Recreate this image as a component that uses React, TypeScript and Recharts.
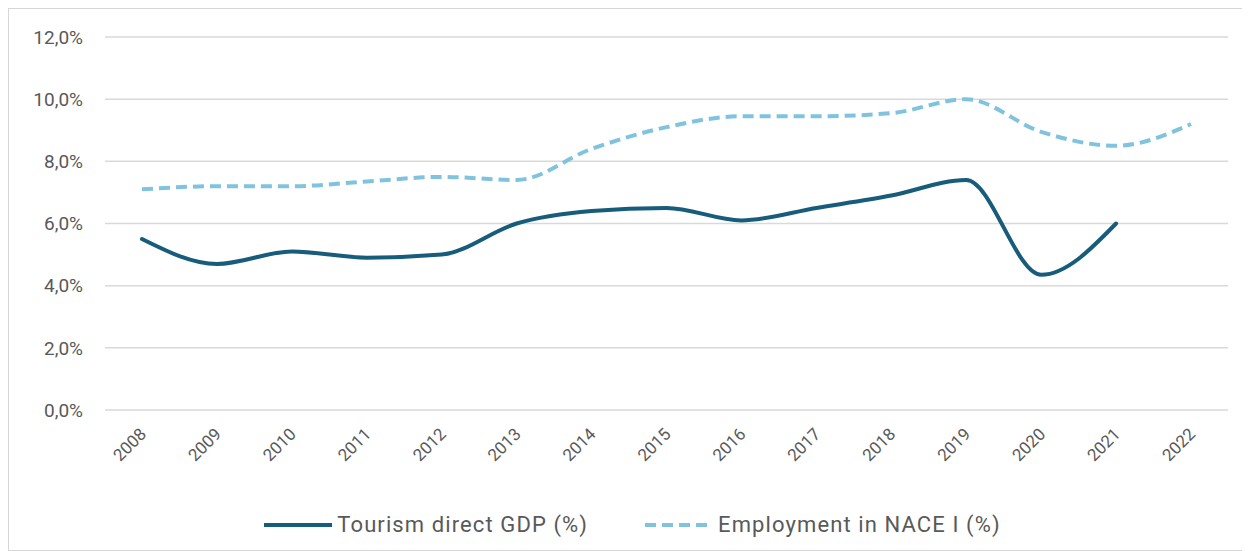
import { CartesianGrid, Legend, Line, LineChart, XAxis, YAxis } from "recharts"

const years = ["2008", "2009", "2010", "2011", "2012", "2013", "2014", "2015", "2016", "2017", "2018", "2019", "2020", "2021", "2022"]
const tourismGdp = [5.5, 4.7, 5.1, 4.9, 5.0, 6.0, 6.4, 6.5, 6.1, 6.5, 6.9, 7.4, 4.35, 6.0, null]
const employmentNace = [7.1, 7.2, 7.2, 7.35, 7.5, 7.4, 8.4, 9.1, 9.45, 9.45, 9.55, 10.0, 8.95, 8.5, 9.2]
const yTicks = [0, 2, 4, 6, 8, 10, 12]

const GDP_COLOR = "#175c7b"
const EMP_COLOR = "#7fc3de"
const FONT = "Roboto, 'Liberation Sans', sans-serif"

const data = years.map((year, i) => ({
  year,
  gdp: tourismGdp[i],
  emp: employmentNace[i],
}))

function pct(v: number) {
  return `${v.toFixed(1).replace(".", ",")}%`
}

function YearTick({ x, y, payload }: { x?: number; y?: number; payload?: { value: string } }) {
  return (
    <g transform={`translate(${(x ?? 0) + 1},${(y ?? 0) + 13})`}>
      <text
        x={0}
        y={0}
        dy={6}
        textAnchor="end"
        transform="rotate(-45)"
        fill="#595959"
        fontSize={17}
        fontFamily={FONT}
      >
        {payload?.value}
      </text>
    </g>
  )
}

function ChartLegend() {
  const items = [
    { label: "Tourism direct GDP (%)", color: GDP_COLOR, dash: undefined },
    { label: "Employment in NACE I (%)", color: EMP_COLOR, dash: "11 6" },
  ]
  return (
    <div style={{ display: "flex", justifyContent: "center", gap: 57, paddingTop: 42, paddingLeft: 28, fontFamily: FONT }}>
      {items.map((it) => (
        <div key={it.label} style={{ display: "flex", alignItems: "center", gap: 5 }}>
          <svg width={68} height={8}>
            <line x1={0} y1={4} x2={68} y2={4} stroke={it.color} strokeWidth={4} strokeDasharray={it.dash} />
          </svg>
          <span style={{ fontSize: 22, color: "#595959", lineHeight: "26px", letterSpacing: 1.1 }}>{it.label}</span>
        </div>
      ))}
    </div>
  )
}

export default function App() {
  return (
    <div style={{ width: 1240, height: 541, border: "1px solid #d6d6d6", background: "#fff" }}>
      <LineChart width={1240} height={541} data={data} margin={{ top: 28, right: 21, left: 0, bottom: 0 }}>
        <CartesianGrid vertical={false} stroke="#d9d9d9" strokeWidth={1.5} />
        <XAxis
          dataKey="year"
          axisLine={false}
          tickLine={false}
          height={60}
          interval={0}
          padding={{ left: 37, right: 37 }}
          tick={<YearTick />}
        />
        <YAxis
          domain={[0, 12]}
          ticks={yTicks}
          tickFormatter={pct}
          axisLine={false}
          tickLine={false}
          tickSize={0}
          tickMargin={22}
          width={96}
          tick={{ fill: "#595959", fontSize: 19, fontFamily: FONT }}
        />
        <Legend verticalAlign="bottom" wrapperStyle={{ height: 80 }} content={<ChartLegend />} />
        <Line
          type="monotone"
          dataKey="gdp"
          stroke={GDP_COLOR}
          strokeWidth={4}
          dot={false}
          strokeLinecap="round"
          isAnimationActive={false}
        />
        <Line
          type="monotone"
          dataKey="emp"
          stroke={EMP_COLOR}
          strokeWidth={4}
          strokeDasharray="11 6"
          dot={false}
          isAnimationActive={false}
        />
      </LineChart>
    </div>
  )
}
